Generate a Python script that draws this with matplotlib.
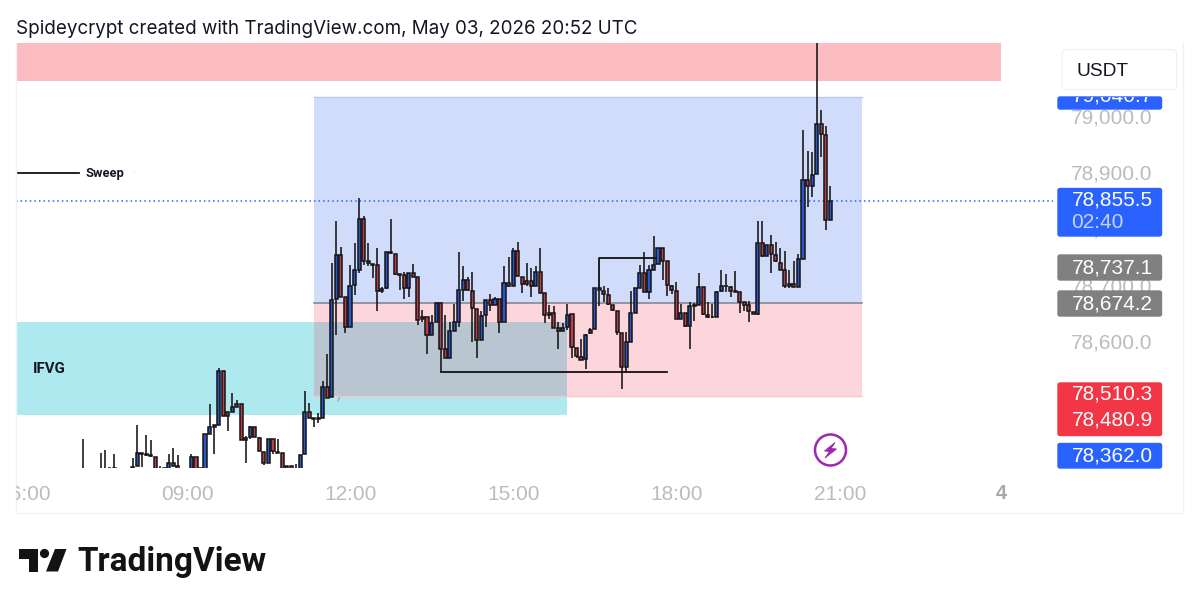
import matplotlib
matplotlib.use("Agg")
import matplotlib.pyplot as plt
import numpy as np
from matplotlib.patches import Circle, FancyBboxPatch, Polygon, Rectangle
from matplotlib.transforms import Bbox, blended_transform_factory

# 5 minute bars, bar 0 = 12:00, first bar = -59
first_bar = -59
opens = [
    78350, 78350, 78350, 78350, 78350, 78350, 78377, 78376, 78350, 78350,
    78350, 78350, 78381, 78405, 78402, 78401, 78398, 78350, 78377, 78376,
    78382, 78381, 78350, 78350, 78350, 78398, 78377, 78376, 78439, 78454,
    78454, 78551, 78478, 78478, 78491, 78491, 78432, 78433, 78451, 78432,
    78407, 78386, 78430, 78407, 78404, 78350, 78381, 78350, 78350, 78402,
    78477, 78466, 78466, 78466, 78521, 78504, 78679, 78756, 78682, 78629,
    78703, 78730, 78821, 78745, 78740, 78739, 78692, 78697, 78760, 78758,
    78722, 78720, 78697, 78725, 78718, 78646, 78646, 78614, 78637, 78672,
    78589, 78574, 78622, 78637, 78694, 78712, 78693, 78660, 78606, 78649,
    78676, 78668, 78679, 78638, 78707, 78702, 78764, 78718, 78711, 78711,
    78701, 78727, 78689, 78653, 78653, 78626, 78621, 78629, 78651, 78592,
    78576, 78571, 78617, 78625, 78697, 78692, 78686, 78668, 78657, 78618,
    78558, 78602, 78654, 78698, 78724, 78691, 78730, 78740, 78768, 78745,
    78702, 78693, 78643, 78653, 78630, 78668, 78668, 78699, 78650, 78647,
    78647, 78692, 78701, 78700, 78692, 78691, 78673, 78668, 78656, 78651,
    78778, 78755, 78774, 78756, 78743, 78730, 78705, 78705, 78700, 78749,
    78889, 78879, 78900, 78989, 78970, 78819,
]
highs = [
    78429, 78350, 78350, 78350, 78405, 78409, 78377, 78403, 78350, 78350,
    78350, 78396, 78455, 78405, 78436, 78427, 78398, 78381, 78377, 78403,
    78414, 78401, 78350, 78350, 78403, 78398, 78377, 78439, 78491, 78454,
    78556, 78551, 78478, 78511, 78498, 78491, 78434, 78452, 78451, 78433,
    78407, 78430, 78430, 78430, 78404, 78382, 78382, 78385, 78401, 78515,
    78494, 78466, 78476, 78533, 78580, 78742, 78817, 78770, 78682, 78738,
    78778, 78857, 78826, 78777, 78740, 78768, 78700, 78762, 78820, 78758,
    78722, 78727, 78725, 78740, 78718, 78659, 78646, 78649, 78672, 78672,
    78649, 78638, 78669, 78761, 78736, 78717, 78726, 78661, 78657, 78676,
    78687, 78681, 78679, 78736, 78752, 78768, 78780, 78718, 78743, 78733,
    78736, 78768, 78689, 78668, 78666, 78638, 78635, 78669, 78651, 78592,
    78608, 78616, 78626, 78698, 78700, 78701, 78697, 78668, 78657, 78618,
    78620, 78692, 78697, 78738, 78762, 78738, 78791, 78768, 78768, 78745,
    78703, 78708, 78670, 78653, 78673, 78672, 78724, 78699, 78673, 78669,
    78692, 78730, 78723, 78701, 78728, 78691, 78673, 78675, 78656, 78816,
    78816, 78774, 78792, 78780, 78768, 78764, 78730, 78746, 78759, 78979,
    78942, 78940, 79200, 79015, 78985, 78879,
]
lows = [
    78345, 78345, 78345, 78345, 78345, 78345, 78370, 78370, 78345, 78345,
    78345, 78345, 78381, 78380, 78400, 78398, 78345, 78345, 78350, 78350,
    78381, 78345, 78345, 78345, 78345, 78345, 78370, 78350, 78439, 78402,
    78454, 78470, 78444, 78478, 78486, 78428, 78387, 78430, 78433, 78408,
    78383, 78386, 78402, 78404, 78345, 78345, 78345, 78345, 78345, 78402,
    78466, 78450, 78458, 78466, 78503, 78504, 78614, 78682, 78617, 78629,
    78685, 78724, 78739, 78737, 78716, 78657, 78689, 78696, 78759, 78721,
    78695, 78678, 78681, 78718, 78632, 78638, 78580, 78614, 78637, 78549,
    78574, 78574, 78622, 78628, 78675, 78693, 78602, 78573, 78606, 78628,
    78657, 78668, 78617, 78638, 78700, 78702, 78719, 78689, 78701, 78682,
    78701, 78688, 78635, 78642, 78626, 78589, 78621, 78623, 78573, 78573,
    78570, 78553, 78616, 78625, 78666, 78673, 78668, 78657, 78614, 78519,
    78546, 78601, 78653, 78697, 78691, 78679, 78730, 78740, 78712, 78684,
    78687, 78642, 78642, 78628, 78590, 78639, 78668, 78650, 78645, 78645,
    78647, 78691, 78691, 78682, 78691, 78653, 78657, 78637, 78652, 78650,
    78753, 78755, 78724, 78744, 78730, 78697, 78698, 78699, 78699, 78749,
    78842, 78860, 78900, 78930, 78800, 78819,
]
closes = [
    78350, 78350, 78350, 78350, 78350, 78350, 78377, 78378, 78350, 78350,
    78350, 78380, 78405, 78402, 78401, 78400, 78350, 78350, 78376, 78387,
    78387, 78350, 78350, 78350, 78398, 78350, 78376, 78438, 78451, 78451,
    78551, 78470, 78470, 78487, 78487, 78428, 78428, 78451, 78433, 78408,
    78387, 78430, 78408, 78404, 78350, 78382, 78350, 78350, 78401, 78477,
    78466, 78465, 78465, 78521, 78503, 78676, 78756, 78682, 78629, 78702,
    78729, 78821, 78746, 78742, 78739, 78692, 78696, 78761, 78761, 78723,
    78720, 78697, 78725, 78718, 78641, 78642, 78614, 78635, 78672, 78590,
    78574, 78621, 78637, 78694, 78712, 78694, 78662, 78606, 78648, 78676,
    78668, 78679, 78638, 78707, 78701, 78764, 78719, 78704, 78705, 78702,
    78727, 78689, 78650, 78650, 78627, 78621, 78626, 78650, 78593, 78577,
    78570, 78615, 78623, 78698, 78694, 78687, 78669, 78659, 78620, 78558,
    78601, 78653, 78697, 78724, 78691, 78729, 78739, 78768, 78746, 78703,
    78694, 78643, 78653, 78630, 78665, 78666, 78699, 78651, 78646, 78646,
    78691, 78701, 78702, 78693, 78691, 78673, 78668, 78657, 78652, 78778,
    78755, 78774, 78758, 78745, 78730, 78701, 78701, 78700, 78749, 78889,
    78879, 78899, 78989, 78971, 78819, 78852,
]

time_labels = ["06:00", "09:00", "12:00", "15:00", "18:00", "21:00"]
time_bars = [-72, -36, 0, 36, 72, 108]
price_ticks = [79000, 78900, 78800, 78700, 78600]
last_price = 78852

# zones: (bar from, bar to, price low, price high)
supply_zone = (79066, 79140)
box_bars = (-8, 113)
box_top, box_mid, box_bottom = 79037, 78671, 78506
ifvg_bar_end = 48
ifvg_low, ifvg_high = 78472, 78637

plt.rcParams["font.family"] = ["Inter", "Liberation Sans", "DejaVu Sans"]

fig = plt.figure(figsize=(11.99, 6.09), dpi=100)
W, H = 1199.0, 609.0

# overlay in picture pixels for the price scale tags and logo
ov = fig.add_axes([0, 0, 1, 1], zorder=3)
ov.set_xlim(0, W)
ov.set_ylim(H, 0)
ov.axis("off")
ov.patch.set_alpha(0)

L, R, T, B = 16, 1001, 43, 468
ax = fig.add_axes([L / W, 1 - B / H, (R - L) / W, (B - T) / H], zorder=2)
ax.patch.set_alpha(0)
bar_px = 4.53
ax.set_xlim((L - 350) / bar_px, (R - 350) / bar_px)
ax.set_ylim(78377.8, 79133.3)
ax.axis("off")

bars = np.arange(first_bar, first_bar + len(opens))
o = np.array(opens, dtype=float)
h = np.array(highs, dtype=float)
l = np.array(lows, dtype=float)
c = np.array(closes, dtype=float)

# zones
ax.axhspan(supply_zone[0], supply_zone[1], color="#fcbcc2", lw=0, zorder=1)
ax.add_patch(Rectangle((box_bars[0], box_mid), box_bars[1] - box_bars[0], box_top - box_mid,
                       fc="#d1dcfb", ec="none", zorder=1))
ax.add_patch(Rectangle((box_bars[0], box_bottom), box_bars[1] - box_bars[0], box_mid - box_bottom,
                       fc="#fcd6da", ec="none", zorder=1))
ax.plot(box_bars, [box_top, box_top], color="#b9c8f5", lw=1, zorder=1.5)
ax.plot(box_bars, [box_bottom, box_bottom], color="#f8c4ca", lw=1, zorder=1.5)
ax.plot(box_bars, [box_mid, box_mid], color="#80808a", lw=1.1, zorder=1.5)
ax.add_patch(Rectangle((ax.get_xlim()[0], ifvg_low), ifvg_bar_end - ax.get_xlim()[0], ifvg_high - ifvg_low,
                       fc="#afe9f0", ec="none", zorder=1.2))
ax.add_patch(Rectangle((box_bars[0], box_bottom), ifvg_bar_end - box_bars[0], ifvg_high - box_bottom,
                       fc="#b9c5d0", ec="none", zorder=1.3))

# last price line runs on to the price scale
ax.plot([ax.get_xlim()[0], (1053 - 350) / bar_px], [last_price, last_price], color="#2962ff",
        lw=1.1, ls=(0, (1, 2)), clip_on=False, zorder=1.6)

# candles
ax.vlines(bars, l, h, color="#141414", lw=1.15, zorder=3)
up = c >= o
ax.bar(bars[up], (c - o)[up], bottom=o[up], width=0.68, color="#2a58c8", edgecolor="#141414", linewidth=1.1, zorder=4)
ax.bar(bars[~up], (c - o)[~up], bottom=o[~up], width=0.68, color="#bb3f4b", edgecolor="#141414", linewidth=1.1, zorder=4)

# drawn structure lines
ax.plot([20, 70], [78548, 78548], color="#111111", lw=1.3, zorder=5)
ax.plot([55, 55, 67.6], [78698, 78751, 78751], color="#111111", lw=1.3, zorder=5)
ax.plot([ax.get_xlim()[0], -59.8], [78902, 78902], color="#111111", lw=1.3, zorder=5)
ax.plot([-2.65, -2.3], [78497, 78503], color="#9a9fa8", lw=0.8, zorder=5)

ov.text(85, 174, "Sweep", fontsize=9.3, fontweight="bold", color="#131722", va="center", ha="left", family="Roboto")
ov.text(133.5, 174, "·", fontsize=6, color="#9a9a9a", va="center", ha="center")
ov.text(33, 369, "IFVG", fontsize=10.8, fontweight="bold", color="#131722", va="center", ha="left", family="Roboto")

# frame
frame_col = "#f1f2f5"
ov.plot([16, 16, 1183, 1183], [43, 513, 513, 43], color=frame_col, lw=1, zorder=0)

# title
ov.text(16, 29.5, "Spideycrypt created with TradingView.com, May 03, 2026 20:52 UTC",
        fontsize=13.53, color="#131722", va="center", ha="left", family=["Inter", "Liberation Sans"])

# time axis
time_trans = blended_transform_factory(ax.transData, ov.transData)
for bar, label in zip(time_bars, time_labels):
    t = ov.text(bar + 0.2, 494, label, transform=time_trans, fontsize=15, color="#bcbcbc",
                va="center", ha="center", family="Liberation Sans")
    t.set_clip_box(Bbox([[16, 0], [1199, 609]]))
    t.set_clip_on(True)
ov.text(1001, 493.5, "4", fontsize=14.5, fontweight="bold", color="#a8a8a8", va="center", ha="center",
        family="Liberation Sans")

# price scale
price_trans = blended_transform_factory(ov.transData, ax.transData)
for p in price_ticks:
    ov.text(1152.5, p, f"{p:,.1f}", transform=price_trans, fontsize=15, color="#bcbcbc",
            va="center", ha="right", family="Liberation Sans", zorder=1)


def tag(y0, y1, colour):
    ov.add_patch(FancyBboxPatch((1058, y0 + 1), 103.5, y1 - y0 - 2, boxstyle="round,pad=0,rounding_size=2",
                                fc=colour, ec=colour, lw=1, zorder=2))


def tag_text(y, s, colour="white", clip=None):
    t = ov.text(1071.5, y, s, fontsize=15, color=colour, va="center", ha="left", family="Liberation Sans", zorder=3)
    if clip is not None:
        t.set_clip_box(clip)
        t.set_clip_on(True)


# top tag is cut off by the USDT strip
tag(96, 110, "#2962ff")
tag_text(96.5, "79,040.7", clip=Bbox([[1000, 609 - 110], [1199, 609 - 97]]))
tag(187.5, 237, "#2962ff")
tag_text(200.5, "78,855.5")
tag_text(222.5, "02:40", colour="#c4d3ff")
tag(254, 281, "#808080")
tag_text(267.5, "78,737.1")
tag(290, 317, "#808080")
tag_text(303.5, "78,674.2")
tag(382, 436.5, "#f23645")
tag_text(394.5, "78,510.3")
tag_text(420.5, "78,480.9")
tag(442.5, 469, "#2962ff")
tag_text(456, "78,362.0")

# currency button
ov.add_patch(FancyBboxPatch((1062, 49.5), 115, 40, boxstyle="round,pad=0,rounding_size=5",
                            fc="white", ec="#f0f1f4", lw=1, zorder=2))
ov.text(1077, 71, "USDT", fontsize=13.8, color="#131722", va="center", ha="left", family="Liberation Sans", zorder=3)

# lightning icon
ov.add_patch(Circle((830.5, 450), 15.5, fc="white", ec="#9c27b0", lw=1.8, zorder=2))
ov.add_patch(Polygon([(835, 442.5), (824.5, 451), (829.5, 451.5), (825, 458), (836.5, 449), (831, 448.5)],
                     closed=True, fc="#9c27b0", ec="#9c27b0", lw=0.6, zorder=3))

# logo
logo = "#131313"
ov.add_patch(Polygon([(19, 549), (38, 549), (38, 571.5), (28.5, 571.5), (28.5, 558.5), (19, 558.5)],
                     closed=True, fc=logo, ec="none"))
ov.add_patch(Circle((44.5, 553.5), 4.6, fc=logo, ec="none"))
ov.add_patch(Polygon([(55, 549), (66.5, 549), (58, 571.5), (46, 571.5)], closed=True, fc=logo, ec="none"))
ov.text(77.5, 562, "TradingView", fontsize=24, fontweight="bold", color=logo, va="center", ha="left",
        family=["Roboto", "Liberation Sans"])

fig.savefig("out.png", dpi=100)
